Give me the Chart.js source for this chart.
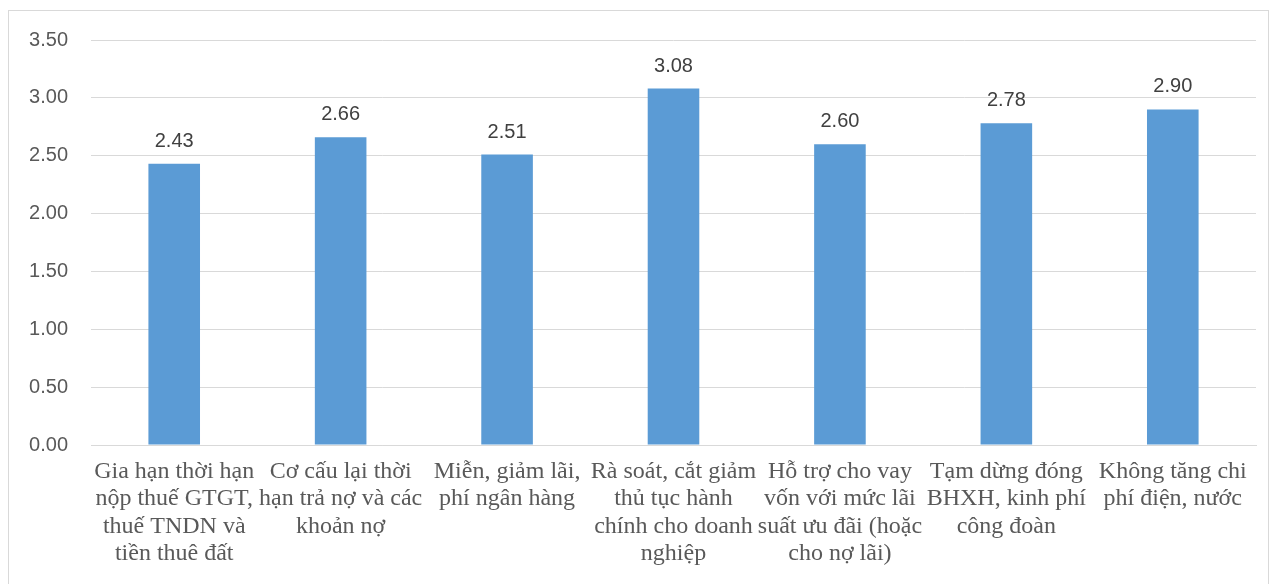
<!DOCTYPE html>
<html>
<head>
<meta charset="utf-8">
<script src="https://cdn.jsdelivr.net/npm/chart.js@4/dist/chart.umd.min.js"></script>
<style>
  html, body { margin: 0; padding: 0; background: #ffffff; }
  #wrap { position: relative; width: 1273px; height: 584px; overflow: hidden; }
  #frame { position: absolute; left: 8px; top: 10px; width: 1261px; height: 590px; border: 1px solid #d9d9d9; box-sizing: border-box; }
  canvas { position: absolute; left: 0; top: 0; }
</style>
</head>
<body>
<div id="wrap">
  <div id="frame"></div>
  <canvas id="c" width="1273" height="584"></canvas>
</div>
<script>
// Support measures and their average ratings
const categories = [
  ["Gia hạn thời hạn", "nộp thuế GTGT,", "thuế TNDN và", "tiền thuê đất"],
  ["Cơ cấu lại thời", "hạn trả nợ và các", "khoản nợ"],
  ["Miễn, giảm lãi,", "phí ngân hàng"],
  ["Rà soát, cắt giảm", "thủ tục hành", "chính cho doanh", "nghiệp"],
  ["Hỗ trợ cho vay", "vốn với mức lãi", "suất ưu đãi (hoặc", "cho nợ lãi)"],
  ["Tạm dừng đóng", "BHXH, kinh phí", "công đoàn"],
  ["Không tăng chi", "phí điện, nước"]
];
const scores = [2.43, 2.66, 2.51, 3.08, 2.60, 2.78, 2.90];
const yTicks = [0, 0.5, 1, 1.5, 2, 2.5, 3, 3.5];

// Draws the value above each bar
const valueLabels = {
  id: 'valueLabels',
  afterDatasetsDraw(chart) {
    const ctx = chart.ctx;
    const meta = chart.getDatasetMeta(0);
    ctx.save();
    ctx.font = '20px "Liberation Sans", Arial, sans-serif';
    ctx.fillStyle = '#404040';
    ctx.textAlign = 'center';
    ctx.textBaseline = 'alphabetic';
    meta.data.forEach((bar, i) => {
      ctx.fillText(scores[i].toFixed(2), bar.x, bar.y - 17);
    });
    ctx.restore();
  }
};

new Chart(document.getElementById('c'), {
  type: 'bar',
  data: {
    labels: categories,
    datasets: [{
      data: scores,
      backgroundColor: '#5B9BD5',
      barPercentage: 0.31,
      categoryPercentage: 1
    }]
  },
  options: {
    responsive: false,
    animation: false,
    devicePixelRatio: 1,
    layout: { padding: { top: 40, right: 17, left: 0, bottom: 0 } },
    plugins: { legend: { display: false }, tooltip: { enabled: false } },
    scales: {
      x: {
        grid: { display: false, drawTicks: false },
        border: { display: true, color: '#d9d9d9', width: 1 },
        ticks: {
          color: '#595959',
          font: { family: '"Liberation Serif", "Times New Roman", serif', size: 24, lineHeight: 1.14 },
          padding: 13,
          maxRotation: 0,
          autoSkip: false
        },
        afterFit(scale) { scale.height = 139; }
      },
      y: {
        min: 0,
        max: 3.5,
        afterBuildTicks(scale) { scale.ticks = yTicks.map(v => ({ value: v })); },
        grid: { color: '#d9d9d9', lineWidth: 1, drawTicks: false },
        border: { display: false },
        ticks: {
          color: '#595959',
          font: { family: '"Liberation Sans", Arial, sans-serif', size: 20 },
          padding: 23,
          callback: v => Number(v).toFixed(2)
        },
        afterFit(scale) { scale.width = 91; }
      }
    }
  },
  plugins: [valueLabels]
});
</script>
</body>
</html>
